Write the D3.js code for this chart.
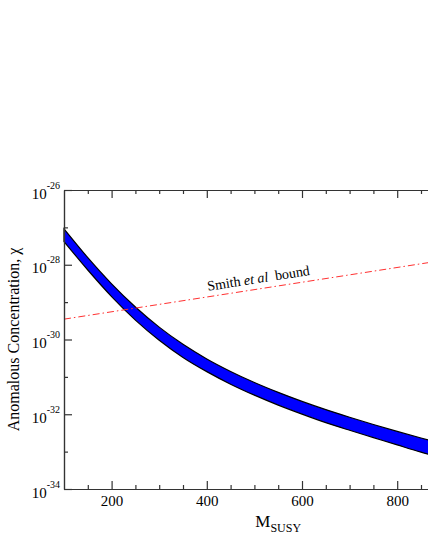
<!DOCTYPE html>
<html>
<head>
<meta charset="utf-8">
<script src="https://cdn.jsdelivr.net/npm/d3@7"></script>
<style>
body { margin: 0; background: #fff; }
text { font-family: "Liberation Serif", "DejaVu Serif", serif; fill: #000; }
</style>
</head>
<body>
<script>
// values
var mSusy = [100, 150, 200, 250, 300, 350, 400, 450, 500, 550, 600, 650, 700, 750, 800, 850, 900, 950, 1000];
var chiUpper = [9.12e-28, 1.55e-28, 3.09e-29, 7.41e-30, 2.14e-30, 7.41e-31, 3.02e-31, 1.40e-31, 7.08e-32, 3.85e-32,
                2.21e-32, 1.33e-32, 8.32e-33, 5.31e-33, 3.47e-33, 2.32e-33, 1.57e-33, 1.07e-33, 7.41e-34];
var chiLower = [4.17e-28, 7.24e-29, 1.41e-29, 3.31e-30, 9.55e-31, 3.31e-31, 1.38e-31, 6.38e-32, 3.24e-32, 1.76e-32,
                1.01e-32, 5.96e-33, 3.72e-33, 2.37e-33, 1.51e-33, 9.66e-34, 6.38e-34, 4.27e-34, 2.88e-34];
var boundM = [100, 1000];
var boundChi = [3.5e-30, 2.1e-28];
var xMajorTicks = [200, 400, 600, 800, 1000];
var xLabelTicks = [200, 400, 600, 800];
var xMinorTicks = [150, 250, 300, 350, 450, 500, 550, 650, 700, 750, 850, 900, 950];
var yMajorExp = [-34, -32, -30, -28, -26];
var yMinorExp = [-33, -31, -29, -27];

var canvasWidth = 428;
var canvasHeight = 554;
var margin = { top: 190, left: 64 };
var width = 428.4;
var height = 299;

var svg = d3.select("body").append("svg")
    .attr("width", canvasWidth)
    .attr("height", canvasHeight);

var xScale = d3.scaleLinear().domain([100, 1000]).range([0, width]);
var yScale = d3.scaleLog().domain([1e-34, 1e-26]).range([height, 0]);

var g = svg.append("g")
    .attr("transform", "translate(" + margin.left + "," + margin.top + ")");

// blue band
var band = mSusy.map((m, i) => ({ m: m, hi: chiUpper[i], lo: chiLower[i] }));
var area = d3.area()
    .x(d => xScale(d.m))
    .y0(d => yScale(d.lo))
    .y1(d => yScale(d.hi))
    .curve(d3.curveMonotoneX);

g.append("path")
    .datum(band)
    .attr("d", area)
    .attr("fill", "#0000ff")
    .attr("stroke", "#000")
    .attr("stroke-width", 1.2);

// Smith et al bound
var bound = boundM.map((m, i) => ({ m: m, c: boundChi[i] }));
g.append("path")
    .datum(bound)
    .attr("d", d3.line().x(d => xScale(d.m)).y(d => yScale(d.c)))
    .attr("fill", "none")
    .attr("stroke", "#ff3030")
    .attr("stroke-width", 1)
    .attr("stroke-dasharray", "7,3,1.5,3");

var lx0 = xScale(boundM[0]), ly0 = yScale(boundChi[0]);
var lx1 = xScale(boundM[1]), ly1 = yScale(boundChi[1]);
var angle = Math.atan2(ly1 - ly0, lx1 - lx0) * 180 / Math.PI;
var labelX = 144;
var labelY = ly0 + (ly1 - ly0) * (labelX - lx0) / (lx1 - lx0) - 6;
var lbl = g.append("text")
    .attr("transform", "translate(" + labelX + "," + labelY + ") rotate(" + angle + ")")
    .attr("font-size", "14px")
    .attr("xml:space", "preserve");
lbl.append("tspan").text("Smith ");
lbl.append("tspan").attr("font-style", "italic").text("et al");
lbl.append("tspan").text("  bound");

// axes
var axisColor = "#333";
function styleAxis(sel) {
    sel.select(".domain").attr("stroke", axisColor).attr("stroke-width", 1.2);
    sel.selectAll(".tick line").attr("stroke", axisColor).attr("stroke-width", 1.2);
}

var xBottom = g.append("g")
    .attr("transform", "translate(0," + height + ")")
    .call(d3.axisBottom(xScale).tickValues(xMajorTicks).tickSize(-8).tickSizeOuter(0).tickPadding(6)
        .tickFormat(d => xLabelTicks.includes(d) ? d3.format("d")(d) : ""));
xBottom.selectAll(".tick text").attr("font-size", "15px").attr("font-family", "Liberation Serif");
styleAxis(xBottom);
g.append("g")
    .attr("transform", "translate(0," + height + ")")
    .call(d3.axisBottom(xScale).tickValues(xMinorTicks).tickSize(-4).tickSizeOuter(0).tickFormat(""))
    .call(styleAxis);

g.append("g")
    .call(d3.axisTop(xScale).tickValues(xMajorTicks).tickSize(-8).tickSizeOuter(0).tickFormat(""))
    .call(styleAxis);
g.append("g")
    .call(d3.axisTop(xScale).tickValues(xMinorTicks).tickSize(-4).tickSizeOuter(0).tickFormat(""))
    .call(styleAxis);

var yLeft = g.append("g")
    .call(d3.axisLeft(yScale).tickValues(yMajorExp.map(e => Math.pow(10, e))).tickSize(-8).tickSizeOuter(0).tickFormat(""));
styleAxis(yLeft);
yLeft.selectAll(".tick").each(function(d, i) {
    var t = d3.select(this).append("text")
        .attr("x", -4)
        .attr("y", 8)
        .attr("text-anchor", "end")
        .attr("font-family", "Liberation Serif")
        .attr("font-size", "15px")
        .attr("fill", "#000");
    t.append("tspan").text("10");
    t.append("tspan").attr("font-size", "10px").attr("dy", -10).text(yMajorExp[i]);
});
g.append("g")
    .call(d3.axisLeft(yScale).tickValues(yMinorExp.map(e => Math.pow(10, e))).tickSize(-4).tickSizeOuter(0).tickFormat(""))
    .call(styleAxis);

// axis titles
var xTitle = svg.append("text")
    .attr("x", margin.left + width / 2)
    .attr("y", 527)
    .attr("text-anchor", "middle")
    .attr("font-size", "17px");
xTitle.append("tspan").text("M");
xTitle.append("tspan").attr("font-size", "12px").attr("dy", 5).text("SUSY");

svg.append("text")
    .attr("transform", "rotate(-90)")
    .attr("x", -(margin.top + height / 2))
    .attr("y", 19)
    .attr("text-anchor", "middle")
    .attr("font-size", "16px")
    .text("Anomalous Concentration, \u03c7");
</script>
</body>
</html>
